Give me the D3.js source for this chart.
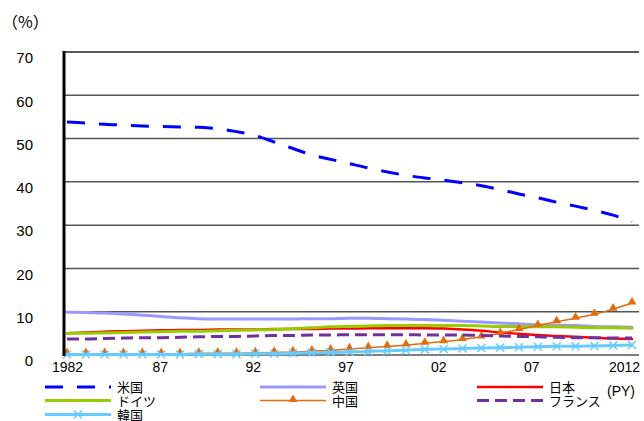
<!DOCTYPE html>
<html>
<head>
<meta charset="utf-8">
<script src="https://cdn.jsdelivr.net/npm/d3@7/dist/d3.min.js"></script>
<style>
  html, body { margin: 0; padding: 0; background: #fff; }
  svg { display: block; }
</style>
</head>
<body>
<svg id="chart" width="644" height="421"></svg>
<script>
// Publication years 1982–2012
const years = d3.range(1982, 2013);

// Share of papers by country (%)
const usa = [53.8, 53.6, 53.3, 53.1, 52.9, 52.8, 52.7, 52.6, 52.3, 51.6, 50.7,
             49.2, 47.7, 46.2, 45.2, 44.2, 43.2, 42.3, 41.5, 40.9, 40.4,
             39.8, 39.1, 38.2, 37.2, 36.3, 35.3, 34.4, 33.4, 32.3, 30.8];
const uk = [9.9, 9.8, 9.7, 9.5, 9.2, 8.9, 8.6, 8.4, 8.3, 8.3, 8.3,
            8.3, 8.3, 8.4, 8.4, 8.5, 8.5, 8.4, 8.3, 8.2, 8.0,
            7.8, 7.6, 7.4, 7.2, 7.0, 6.9, 6.8, 6.6, 6.5, 6.4];
const japan = [5.0, 5.2, 5.4, 5.5, 5.6, 5.7, 5.8, 5.8, 5.9, 5.9, 5.9,
               6.0, 6.0, 6.0, 6.1, 6.1, 6.2, 6.2, 6.2, 6.2, 6.1,
               5.9, 5.6, 5.2, 4.9, 4.6, 4.4, 4.2, 4.0, 3.8, 3.7];
const germany = [5.0, 5.0, 5.1, 5.2, 5.3, 5.4, 5.5, 5.5, 5.6, 5.7, 5.8,
                 5.9, 6.1, 6.3, 6.5, 6.6, 6.7, 6.8, 6.8, 6.8, 6.8,
                 6.8, 6.7, 6.6, 6.6, 6.5, 6.5, 6.4, 6.3, 6.3, 6.2];
const china = [0.3, 0.3, 0.3, 0.3, 0.3, 0.3, 0.3, 0.4, 0.4, 0.4, 0.5,
               0.6, 0.7, 0.9, 1.1, 1.4, 1.7, 2.0, 2.3, 2.7, 3.1,
               3.6, 4.2, 5.0, 5.9, 6.8, 7.7, 8.5, 9.4, 10.6, 12.0];
const france = [3.7, 3.7, 3.8, 3.9, 4.0, 4.0, 4.1, 4.2, 4.3, 4.3, 4.4,
                4.5, 4.5, 4.6, 4.6, 4.7, 4.7, 4.7, 4.7, 4.6, 4.6,
                4.6, 4.5, 4.4, 4.3, 4.2, 4.1, 4.0, 4.0, 3.9, 3.9];
const korea = [0.1, 0.1, 0.1, 0.1, 0.1, 0.1, 0.1, 0.2, 0.2, 0.2, 0.3,
               0.3, 0.4, 0.5, 0.6, 0.7, 0.8, 1.0, 1.1, 1.3, 1.4,
               1.5, 1.6, 1.7, 1.8, 1.9, 2.0, 2.0, 2.1, 2.2, 2.3];

// Axis labels
const yTicks = [0, 10, 20, 30, 40, 50, 60, 70];
const xTickYears = [1982, 1987, 1992, 1997, 2002, 2007, 2012];
const xTickLabels = ["1982", "87", "92", "97", "02", "07", "2012"];

const seriesNames = ["米国", "英国", "日本", "ドイツ", "中国", "フランス", "韓国"];
const seriesValues = [usa, uk, japan, germany, china, france, korea];

const styles = {
  "米国":   { color: "#0000ff", width: 3,   dash: "18,14" },
  "英国":   { color: "#9999ff", width: 3,   dash: null },
  "日本":   { color: "#ff0000", width: 2.5, dash: null },
  "ドイツ": { color: "#99cc00", width: 3,   dash: null },
  "中国":   { color: "#e46c0a", width: 1.5, dash: null, marker: "triangle" },
  "フランス": { color: "#7030a0", width: 3, dash: "12,6" },
  "韓国":   { color: "#66ccff", width: 3,   dash: null, marker: "cross" }
};

const latin = "Arial, 'Liberation Sans', sans-serif";
const cjk = "'Noto Sans CJK JP', sans-serif";

const svg = d3.select("#chart");

const plot = { left: 64, right: 639, top: 52, bottom: 355 };

const x = d3.scaleLinear().domain([1982, 2012]).range([67, 632]);
const xLabel = d3.scaleLinear().domain([1982, 2012]).range([67, 624]);
const y = d3.scaleLinear().domain([0, 70]).range([plot.bottom, plot.top]);

// Horizontal gridlines
svg.append("g")
  .selectAll("line")
  .data(yTicks)
  .join("line")
  .attr("x1", plot.left)
  .attr("x2", plot.right)
  .attr("y1", d => y(d))
  .attr("y2", d => y(d))
  .attr("stroke", d => d === 70 ? "#222" : "#555")
  .attr("stroke-width", 1.5);

// Y axis labels
const yAxis = svg.append("g")
  .attr("transform", `translate(33,6)`)
  .call(d3.axisLeft(y).tickValues(yTicks).tickSize(0).tickPadding(0));
yAxis.select(".domain").remove();
yAxis.selectAll("text")
  .attr("font-size", 15)
  .attr("fill", "#000")
  .attr("font-family", latin);

// X axis labels
const xAxis = svg.append("g")
  .attr("transform", `translate(0,${plot.bottom + 7})`)
  .call(d3.axisBottom(xLabel).tickValues(xTickYears)
    .tickFormat((d, i) => xTickLabels[i]).tickSize(0).tickPadding(0));
xAxis.select(".domain").remove();
xAxis.selectAll("text")
  .attr("font-size", 14)
  .attr("fill", "#000")
  .attr("font-family", latin);

// Unit label
svg.append("text")
  .attr("x", 2)
  .attr("y", 28)
  .attr("font-size", 16)
  .attr("font-family", cjk)
  .text("（%）");

// Series lines
const line = d3.line()
  .x((d, i) => x(years[i]))
  .y(d => y(d))
  .curve(d3.curveMonotoneX);

const triangle = d3.symbol().type(d3.symbolTriangle).size(34);

seriesNames.forEach((name, k) => {
  const s = styles[name];
  const vals = seriesValues[k];
  const g = svg.append("g");
  g.append("path")
    .attr("d", line(vals))
    .attr("fill", "none")
    .attr("stroke", s.color)
    .attr("stroke-width", s.width)
    .attr("stroke-dasharray", s.dash)
    .attr("stroke-linecap", s.dash ? "butt" : "round");
  if (s.marker === "triangle") {
    g.selectAll("path.m")
      .data(vals)
      .join("path")
      .attr("class", "m")
      .attr("d", triangle)
      .attr("transform", (d, i) => `translate(${x(years[i])},${y(d) - 1})`)
      .attr("fill", s.color);
  } else if (s.marker === "cross") {
    g.selectAll("path.m")
      .data(vals)
      .join("path")
      .attr("class", "m")
      .attr("d", "M-4,-4L4,4M-4,4L4,-4")
      .attr("transform", (d, i) => `translate(${x(years[i])},${y(d)})`)
      .attr("stroke", s.color)
      .attr("stroke-width", 1.5)
      .attr("fill", "none");
  }
});

// Left axis line
svg.append("line")
  .attr("x1", plot.left).attr("x2", plot.left)
  .attr("y1", plot.top - 1).attr("y2", plot.bottom + 1)
  .attr("stroke", "#000")
  .attr("stroke-width", 3);

// Legend (three columns)
const legendCols = [45, 260, 477];
const legendRows = [387, 400.5, 414.5];
const legend = svg.append("g").attr("font-family", cjk);
seriesNames.forEach((name, k) => {
  const s = styles[name];
  const cx = legendCols[k % 3];
  const cy = legendRows[Math.floor(k / 3)];
  const len = 66;
  legend.append("line")
    .attr("x1", cx).attr("x2", cx + len)
    .attr("y1", cy).attr("y2", cy)
    .attr("stroke", s.color)
    .attr("stroke-width", s.width)
    .attr("stroke-dasharray", s.dash);
  if (s.marker === "triangle") {
    legend.append("path")
      .attr("d", triangle)
      .attr("transform", `translate(${cx + len / 2},${cy - 1})`)
      .attr("fill", s.color);
  } else if (s.marker === "cross") {
    legend.append("path")
      .attr("d", "M-4,-4L4,4M-4,4L4,-4")
      .attr("transform", `translate(${cx + len / 2},${cy})`)
      .attr("stroke", s.color)
      .attr("stroke-width", 1.5);
  }
  legend.append("text")
    .attr("x", cx + len + 6)
    .attr("y", cy + 5)
    .attr("font-size", 13)
    .text(name);
});

legend.append("text")
  .attr("x", 607)
  .attr("y", 396)
  .attr("font-size", 14)
  .attr("font-family", latin)
  .text("(PY)");
</script>
</body>
</html>
